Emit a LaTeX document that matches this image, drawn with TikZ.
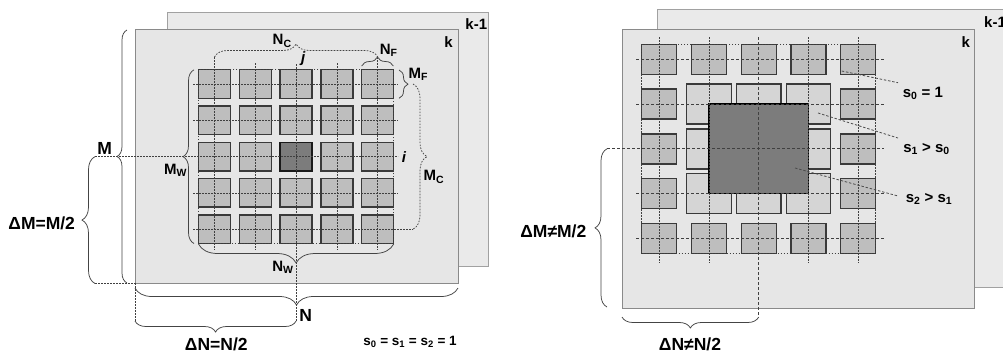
\documentclass[tikz,border=0pt]{standalone}
\usepackage{fontspec}
\setmainfont{Liberation Sans}
\usetikzlibrary{decorations.pathreplacing}
\definecolor{panelfill}{HTML}{E6E6E6}
\definecolor{backfill}{HTML}{EAEAEA}
\definecolor{panelline}{HTML}{8A8A8A}
\definecolor{tilefill}{HTML}{BEBEBE}
\definecolor{tileline}{HTML}{3A3A3A}
\definecolor{innerfill}{HTML}{D5D5D5}
\definecolor{darkfill}{HTML}{7C7C7C}
\definecolor{inkgray}{HTML}{444444}
\tikzset{
  panel/.style={draw=panelline, fill=panelfill, line width=1pt},
  backpanel/.style={draw=panelline!80, fill=backfill, line width=1pt},
  ltile/.style={draw=tileline, fill=tilefill, line width=1.4pt, minimum width=32pt, minimum height=28.5pt, inner sep=0pt},
  rtile/.style={draw=tileline, fill=tilefill, line width=1.4pt, minimum width=35pt, minimum height=30pt, inner sep=0pt},
  itile/.style={draw=tileline, fill=innerfill, line width=1.4pt, minimum width=44.5pt, minimum height=40pt, inner sep=0pt},
  gridl/.style={draw=black!75, line width=0.7pt, dash pattern=on 1.6pt off 1.4pt},
  gridc/.style={draw=black!75, line width=1pt, dash pattern=on 3pt off 2pt},
  leader/.style={draw=black!70, line width=0.8pt, dash pattern=on 2.5pt off 1.8pt},
  brc/.style={decorate, decoration={brace, amplitude=#1}, draw=inkgray, line width=0.75pt},
  dbrc/.style={brc=#1, dash pattern=on 1.6pt off 1.4pt},
  big/.style={font=\bfseries\fontsize{17.5}{20}\selectfont, inner sep=0pt},
  mid/.style={font=\bfseries\fontsize{15}{17}\selectfont, inner sep=0pt},
  sml/.style={font=\bfseries\fontsize{13.5}{15}\selectfont, inner sep=0pt},
  itl/.style={font=\bfseries\itshape\fontsize{15}{17}\selectfont, inner sep=0pt},
}
\begin{document}
\begin{tikzpicture}[x=1pt,y=-1pt]
\useasboundingbox (0,0) rectangle (1003,354);

% ================= LEFT PANEL =================
\path[backpanel] (167,12) rectangle (488,266);
\path[panel] (135,29) rectangle (458,283);
\node[mid] (lk1) at (476.3,23.7) {k-1};
\node[mid] (lk) at (448.5,42) {k};

% tiles
\foreach \c in {0,...,4}{
  \foreach \r in {0,...,4}{
    \node[ltile] (L\r\c) at ({214.5+40.8*\c},{84+36.3*\r}) {};
  }
}
\node[ltile, fill=darkfill, draw=black!90, line width=1.7pt] (Lmid) at (L22) {};

% window outline
\draw[gridl] (198.5,69.75) rectangle (393.7,243.45);
% vertical grid lines
\draw[gridl] (214.5,57) -- (214.5,250);
\draw[gridl] (255.3,63) -- (255.3,250);
\draw[gridl] (296.1,64) -- (296.1,321);
\draw[gridl] (336.9,63) -- (336.9,250);
\draw[gridl] (377.7,57) -- (377.7,250);
% horizontal grid lines
\draw[gridl] (193,84) -- (398,84);
\draw[gridl] (193,120.3) -- (398,120.3);
\draw[gridl] (95,156.6) -- (398,156.6);
\draw[gridl] (193,192.9) -- (398,192.9);
\draw[gridl] (193,229.2) -- (413,229.2);
% panel corner guides
\draw[gridl] (95,283.5) -- (135,283.5);
\draw[gridl] (135,283) -- (135,321);

% braces
\draw[brc=10pt] (127,283) -- (127,30);
\draw[brc=13pt] (95,283.5) -- (95,156.6);
\draw[brc=11pt] (194,243.5) -- (194,69.8);
\draw[dbrc=13pt] (214.5,57) -- (377.7,57);
\draw[brc=9pt] (361.7,66) -- (393.3,66);
\draw[brc=9pt] (399,70) -- (399,98.3);
\draw[dbrc=14pt] (413,84) -- (413,229.2);
\draw[brc=19pt] (393.7,244) -- (198.5,244);
\draw[brc=17pt] (458,288) -- (135,288);
\draw[brc=11pt] (296.1,321) -- (135,321);

% labels
\node[big] (lM) at (104.7,148.8) {M};
\node[big] (ldM) at (41.7,223) {ΔM=M/2};
\node[mid] (lMW) at (175.5,170) {M\textsubscript{W}};
\node[mid] (lNC) at (282.2,40.8) {N\textsubscript{C}};
\node[itl] (lj) at (303.3,58.3) {j};
\node[mid] (lNF) at (388.7,50.5) {N\textsubscript{F}};
\node[mid] (lMF) at (418.3,74) {M\textsubscript{F}};
\node[itl] (li) at (404,156.7) {i};
\node[mid] (lMC) at (434,176.7) {M\textsubscript{C}};
\node[mid] (lNW) at (283,267.5) {N\textsubscript{W}};
\node[big] (lN) at (305.8,315.8) {N};
\node[big, anchor=base] (ldN) at (216.3,350.5) {ΔN=N/2};
\node[sml] (ls) at (410,341.7) {s\textsubscript{0} = s\textsubscript{1} = s\textsubscript{2} = 1};

% ================= RIGHT PANEL =================
\path[backpanel] (657,9) rectangle (1012,287);
\path[panel] (622,29) rectangle (974,308);
\node[mid, anchor=west] (rk1) at (984,22.5) {k-1};
\node[mid] (rk) at (965.8,42.5) {k};

% outer ring of tiles (s0)
\foreach \c in {0,...,4}{
  \foreach \r in {0,...,4}{
    \pgfmathtruncatemacro{\edge}{(\c==0)||(\c==4)||(\r==0)||(\r==4)}
    \ifnum\edge=1
      \node[rtile] (R\r\c) at ({659.2+49.75*\c},{59.2+44.8*\r}) {};
    \fi
  }
}
% inner ring (s1)
\foreach \c/\r in {1/1,2/1,3/1,1/2,3/2,1/3,2/3,3/3}{
  \node[itile] (I\r\c) at ({659.2+49.75*\c},{59.2+44.8*\r}) {};
}
% center tile (s2)
\node[draw=black, fill=darkfill, line width=1.7pt, minimum width=99.5pt, minimum height=89.6pt, inner sep=0pt] (Rmid) at (758.7,148.8) {};

% window outline and grid lines
\draw[gridl] (641.7,44.2) rectangle (875.7,253.4);
\draw[gridl] (659.2,37) -- (659.2,263);
\draw[gridl] (708.95,37) -- (708.95,263);
\draw[gridc] (758.7,37) -- (758.7,317);
\draw[gridl] (808.45,37) -- (808.45,263);
\draw[gridl] (858.2,37) -- (858.2,263);
\draw[gridc] (636,59.2) -- (884,59.2);
\draw[gridc] (636,104) -- (884,104);
\draw[gridc] (607,148.8) -- (884,148.8);
\draw[gridc] (636,193.6) -- (884,193.6);
\draw[gridc] (636,238.4) -- (884,238.4);

% braces
\draw[brc=12pt] (607,307) -- (607,148.8);
\draw[brc=11pt] (758.7,317) -- (622,317);

% labels and leaders
\node[mid] (rs0) at (922.8,93.7) {s\textsubscript{0} = 1};
\node[mid] (rs1) at (926.5,149) {s\textsubscript{1} > s\textsubscript{0}};
\node[mid] (rs2) at (929,199) {s\textsubscript{2} > s\textsubscript{1}};
\coordinate (p0) at (841.7,71);
\coordinate (p1) at (818,113);
\coordinate (p2) at (795,168);
\draw[leader] (p0) -- (898,82.7);
\draw[leader] (p1) -- (898,138);
\draw[leader] (p2) -- (898,196);
\node[big] (rdM) at (553.3,231.7) {ΔM≠M/2};
\node[big, anchor=base] (rdN) at (690,350.5) {ΔN≠N/2};
\end{tikzpicture}
\end{document}
